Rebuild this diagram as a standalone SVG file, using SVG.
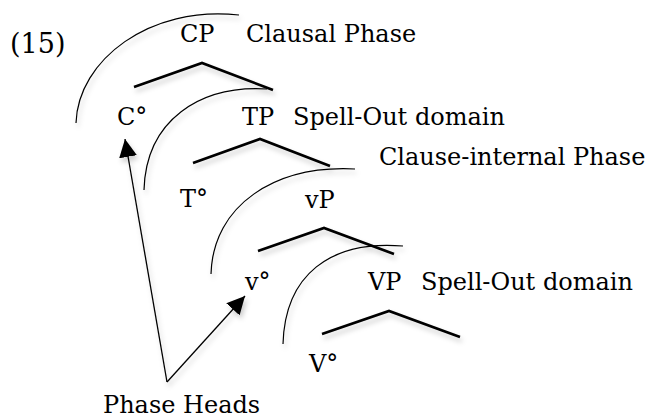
<svg xmlns="http://www.w3.org/2000/svg" width="651" height="419" viewBox="0 0 651 419">
<style>
text{font-family:"DejaVu Serif","Liberation Serif",serif;font-size:24px;fill:#000}
.arc{fill:none;stroke:#000;stroke-width:1.2}
.tri{fill:none;stroke:#000;stroke-width:2.6;stroke-linejoin:miter}
.arr{fill:none;stroke:#000;stroke-width:1.3}
</style>
<defs>
<filter id="sh" x="-20%" y="-20%" width="140%" height="160%">
<feDropShadow dx="2" dy="4" stdDeviation="2.5" flood-color="#000" flood-opacity="0.2"/>
</filter>
<marker id="ah" viewBox="0 0 10 10" refX="10" refY="5" markerWidth="18" markerHeight="18" markerUnits="userSpaceOnUse" orient="auto">
<path d="M0,0 L10,5 L0,10 Z" fill="#000"/>
</marker>
</defs>
<text x="10" y="53" style="font-size:27px">(15)</text>
<g id="CP"><text x="180" y="42">CP</text><text x="246" y="42">Clausal Phase</text></g>
<g id="C0"><text x="117" y="125">C°</text></g>
<g id="TP"><text x="242" y="125">TP</text><text x="293" y="125">Spell-Out domain</text></g>
<g id="clause-internal"><text x="379" y="165">Clause-internal Phase</text></g>
<g id="T0"><text x="180" y="207">T°</text></g>
<g id="vP"><text x="305" y="208">vP</text></g>
<g id="v0"><text x="245" y="290">v°</text></g>
<g id="VP"><text x="368" y="290">VP</text><text x="421" y="290">Spell-Out domain</text></g>
<g id="V0"><text x="309" y="372">V°</text></g>
<g id="heads"><text x="103" y="413">Phase Heads</text></g>
<g id="connectors" filter="url(#sh)">
<path class="arc" d="M76,123 C78,60 150,5 239,15"/>
<path class="arc" d="M144,190 C146,120 200,85 267,89"/>
<path class="arc" d="M211,274 C213,205 275,165 355,169"/>
<path class="arc" d="M283,344 C285,275 330,240 403,246"/>
<path class="tri" d="M134,87 L202,63 L273,90"/>
<path class="tri" d="M193,163 L260,139 L330,166"/>
<path class="tri" d="M258,251 L324,228 L394,254"/>
<path class="tri" d="M322,334 L389,311 L460,337"/>
<path class="arr" d="M167,382 L125,139" marker-end="url(#ah)"/>
<path class="arr" d="M167,382 L245,296" marker-end="url(#ah)"/>
</g>
</svg>
